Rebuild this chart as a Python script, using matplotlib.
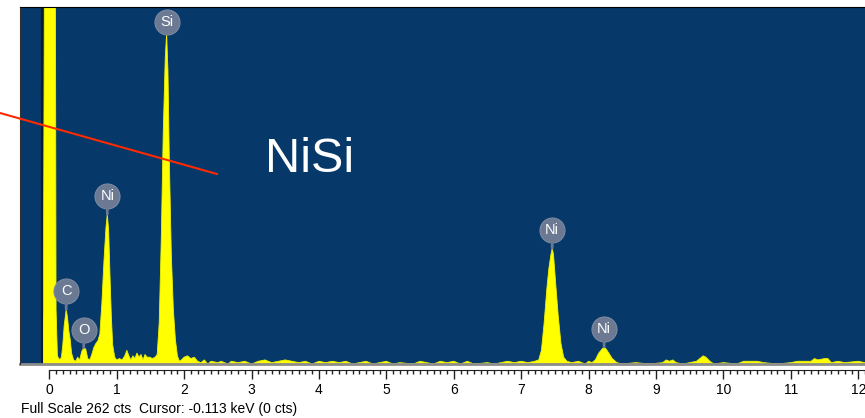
import numpy as np
import matplotlib
matplotlib.use('Agg')
import matplotlib.pyplot as plt
from matplotlib.lines import Line2D
from matplotlib.ticker import FixedLocator
from matplotlib.transforms import ScaledTranslation

plt.rcParams['font.family'] = ['Liberation Sans', 'DejaVu Sans']

# EDS spectrum outline (energy in keV, counts per channel)
energy_kev = [
    -0.12, -0.11, -0.09, -0.07, -0.06, 0.00, 0.08, 0.09, 0.10, 0.12,
    0.15, 0.18, 0.20, 0.22, 0.25, 0.27, 0.29, 0.31, 0.33, 0.36,
    0.39, 0.42, 0.45, 0.48, 0.51, 0.54, 0.57, 0.60, 0.63, 0.66,
    0.69, 0.72, 0.75, 0.78, 0.81, 0.84, 0.86, 0.88, 0.90, 0.92,
    0.94, 0.97, 1.00, 1.04, 1.08, 1.12, 1.15, 1.18, 1.21, 1.24,
    1.27, 1.30, 1.33, 1.36, 1.39, 1.42, 1.45, 1.49, 1.53, 1.57,
    1.60, 1.63, 1.66, 1.69, 1.72, 1.74, 1.76, 1.78, 1.81, 1.84,
    1.87, 1.90, 1.93, 1.96, 2.00, 2.05, 2.10, 2.15, 2.20, 2.25,
    2.30, 2.35, 2.40, 2.50, 2.55, 2.65, 2.70, 2.80, 2.90, 3.00,
    3.10, 3.20, 3.30, 3.40, 3.50, 3.60, 3.70, 3.80, 3.90, 4.00,
    4.10, 4.20, 4.30, 4.40, 4.50, 4.60, 4.70, 4.80, 4.90, 5.00,
    5.10, 5.20, 5.40, 5.50, 5.60, 5.70, 5.80, 5.90, 6.00, 6.10,
    6.20, 6.30, 6.50, 6.60, 6.80, 6.90, 7.00, 7.10, 7.20, 7.26,
    7.30, 7.34, 7.38, 7.41, 7.44, 7.46, 7.48, 7.51, 7.55, 7.59,
    7.63, 7.68, 7.75, 7.85, 7.95, 8.00, 8.05, 8.10, 8.15, 8.20,
    8.23, 8.26, 8.30, 8.35, 8.42, 8.50, 8.70, 8.90, 9.10, 9.15,
    9.20, 9.25, 9.30, 9.40, 9.50, 9.60, 9.65, 9.70, 9.74, 9.80,
    9.86, 10.00, 10.20, 10.30, 10.40, 10.50, 10.60, 10.80, 11.00, 11.10,
    11.30, 11.35, 11.40, 11.50, 11.55, 11.60, 11.70, 11.80, 12.00, 12.10,
]
counts = [
    0, 8, 40, 300, 600, 900, 600, 300, 40, 6,
    3, 5, 14, 28, 40, 34, 24, 18, 8, 3,
    2, 5, 3, 9, 12, 11, 4, 3, 7, 12,
    15, 17, 22, 45, 75, 100, 110, 98, 65, 35,
    14, 5, 3, 4, 3, 6, 10, 6, 3, 6,
    4, 8, 5, 7, 3, 7, 5, 5, 4, 5,
    7, 30, 90, 170, 225, 243, 215, 150, 80, 40,
    18, 6, 2, 3, 5, 6, 4, 5, 2, 1,
    3, 0, 2, 1, 2, 0, 2, 1, 2, 0,
    2, 3, 1, 2, 3, 2, 1, 2, 0, 2,
    1, 2, 1, 2, 0, 1, 2, 0, 1, 2,
    0, 1, 0, 2, 1, 0, 2, 1, 2, 0,
    2, 0, 1, 0, 2, 1, 2, 1, 2, 3,
    10, 30, 55, 70, 80, 85, 80, 60, 35, 15,
    5, 2, 1, 2, 0, 2, 1, 3, 8, 11,
    12.5, 11, 8, 4, 1, 0, 1, 0, 1, 3,
    2, 3, 1, 0, 1, 2, 4, 6, 5, 2,
    0, 1, 0, 2, 2, 2, 1, 0, 1, 2,
    2, 4, 3, 4, 4, 1, 2, 1, 2, 1,
]

# identified lines
peak_names = ['C', 'O', 'Ni', 'Si', 'Ni', 'Ni']
peak_kev = [0.25, 0.51, 0.86, 1.74, 7.46, 8.23]
peak_cts = [40, 12, 110, 243, 85, 12.5]

full_scale = 262
cursor_kev = -0.113
ruler_major = list(range(0, 13))
ruler_minor = [i / 10 for i in range(0, 122)]

W, H = 865, 418
fig = plt.figure(figsize=(W / 100, H / 100), dpi=100)
ax = fig.add_axes([20 / W, (H - 364) / H, (W - 20) / W, (364 - 7) / H])
ax.set_facecolor('#06386a')
ax.set_xlim(-0.435, 12.10)
ax.set_ylim(0, full_scale)

ax.fill_between(energy_kev, counts, 0, color='#ffff00', lw=0.6, edgecolor='#f0f000')
ax.axvline(cursor_kev, color='#0c1a2c', lw=1.5)

# peak labels: grey disc on a short stem above the peak
ax_h = 357
for name, e, c in zip(peak_names, peak_kev, peak_cts):
    from_top = (1 - c / full_scale) * ax_h
    off = min(18, from_top - 15)
    ax.annotate('', xy=(e, c), xytext=(0, off), textcoords='offset pixels',
                arrowprops=dict(arrowstyle='-', color='#6b7a92', lw=2, shrinkA=0, shrinkB=0))
    tr = ax.transData + ScaledTranslation(0, off / 100, fig.dpi_scale_trans)
    ax.plot(e, c, 'o', ms=18, color='#6b7a92', mec='#7d8aa0', mew=0.8, transform=tr, clip_on=False)
    ax.text(e, c, name, transform=tr, ha='center', va='center', color='white', fontsize=10.5)

ax.spines['right'].set_visible(False)
ax.spines['top'].set_color('black')
ax.spines['left'].set_color('#333333')
ax.yaxis.set_visible(False)

# ruler along the bottom
ax.spines['bottom'].set_position(('outward', 4))
ax.spines['bottom'].set_bounds(0, 12.1)
ax.spines['bottom'].set_color('#222222')
ax.xaxis.set_major_locator(FixedLocator(ruler_major))
ax.xaxis.set_minor_locator(FixedLocator(ruler_minor))
ax.tick_params(axis='x', which='major', direction='out', length=6.5, width=1, color='#222222',
               labelsize=10, pad=3.5)
ax.tick_params(axis='x', which='minor', direction='out', length=3, width=1, color='#222222')
ax.plot([0, 1], [0, 0], transform=ax.transAxes, color='#8c8c8c', lw=2, clip_on=False)

fig.text(21 / W, 1 - 413 / H, 'Full Scale %d cts  Cursor: %.3f keV (0 cts)' % (full_scale, cursor_kev),
         fontsize=10, va='baseline', ha='left', color='black')

fig.text(265 / W, 1 - 172 / H, 'NiSi', fontsize=35, color='white', va='baseline', ha='left')
fig.lines.append(Line2D([0, 217 / W], [1 - 113 / H, 1 - 174 / H], transform=fig.transFigure,
                        color='#ff2a00', lw=1.5))

fig.savefig('out.png', dpi=100)
